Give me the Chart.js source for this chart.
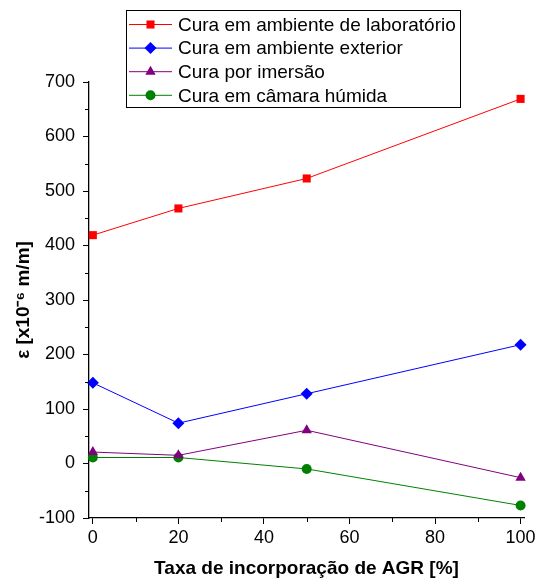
<!DOCTYPE html>
<html>
<head>
<meta charset="utf-8">
<script src="https://cdn.jsdelivr.net/npm/chart.js@4/dist/chart.umd.min.js"></script>
<style>
  html, body { margin: 0; padding: 0; background: #fff; }
  #wrap { width: 541px; height: 581px; }
</style>
</head>
<body>
<div id="wrap"><canvas id="chart" width="541" height="581"></canvas></div>
<script>
// Taxa de incorporação de AGR [%]
const taxas = [0, 20, 50, 100];

// Extensão (x10^-6 m/m) para cada tipo de cura
const curaLaboratorio = [419, 468, 523, 669];
const curaExterior = [148, 74, 128, 218];
const curaImersao = [21, 15, 61, -26];
const curaCamara = [11, 11, -10, -77];

const nomesSeries = [
  'Cura em ambiente de laboratório',
  'Cura em ambiente exterior',
  'Cura por imersão',
  'Cura em câmara húmida'
];
const coresSeries = ['#ff0000', '#0000ff', '#800080', '#008000'];
const marcadores = ['rect', 'rectRot', 'triangle', 'circle'];
const raios = [5.7, 6, 6, 5];

const xTicks = [0, 20, 40, 60, 80, 100];
const xMinor = [10, 30, 50, 70, 90];
const yTicks = [-100, 0, 100, 200, 300, 400, 500, 600, 700];
const yMinor = [-50, 50, 150, 250, 350, 450, 550, 650];

const FONTE = "'Liberation Sans', Arial, sans-serif";

function serie(valores) {
  return taxas.map((t, i) => ({ x: t, y: valores[i] }));
}

const valoresSeries = [curaLaboratorio, curaExterior, curaImersao, curaCamara];

const datasets = valoresSeries.map((v, i) => ({
  label: nomesSeries[i],
  data: serie(v),
  borderColor: coresSeries[i],
  backgroundColor: coresSeries[i],
  borderWidth: 1,
  pointStyle: marcadores[i],
  pointRadius: raios[i],
  pointHoverRadius: raios[i],
  pointBorderWidth: 0,
  tension: 0,
  clip: false
}));

// ticks secundários (sem rótulo), mais curtos que os principais
const minorTicks = {
  id: 'minorTicks',
  afterDraw(chart) {
    const { ctx } = chart;
    const x = chart.scales.x, y = chart.scales.y;
    ctx.save();
    ctx.strokeStyle = '#000';
    ctx.lineWidth = 1;
    ctx.beginPath();
    xMinor.forEach(v => {
      const px = Math.round(x.getPixelForValue(v)) + 0.5;
      ctx.moveTo(px, y.bottom);
      ctx.lineTo(px, y.bottom + 4);
    });
    yMinor.forEach(v => {
      const py = Math.round(y.getPixelForValue(v)) + 0.5;
      ctx.moveTo(x.left, py);
      ctx.lineTo(x.left - 4, py);
    });
    ctx.stroke();
    ctx.restore();
  }
};

// legenda em caixa, sobreposta ao topo do gráfico
const legendaCaixa = {
  id: 'legendaCaixa',
  afterDraw(chart) {
    const { ctx } = chart;
    const bx = 126.5, by = 10.5, bw = 334, bh = 97;
    ctx.save();
    ctx.fillStyle = '#fff';
    ctx.fillRect(bx, by, bw, bh);
    ctx.strokeStyle = '#000';
    ctx.lineWidth = 1;
    ctx.strokeRect(bx, by, bw, bh);
    ctx.font = '19px ' + FONTE;
    ctx.textBaseline = 'middle';
    ctx.textAlign = 'left';
    chart.data.datasets.forEach((ds, i) => {
      const ly = 24.5 + i * 23.6;
      ctx.strokeStyle = ds.borderColor;
      ctx.lineWidth = 1;
      ctx.beginPath();
      ctx.moveTo(129, ly);
      ctx.lineTo(172, ly);
      ctx.stroke();
      ctx.fillStyle = ds.backgroundColor;
      ctx.strokeStyle = ds.borderColor;
      Chart.helpers.drawPoint(ctx, {
        pointStyle: ds.pointStyle,
        radius: ds.pointRadius,
        rotation: 0,
        borderWidth: 0
      }, 150.5, ly);
      ctx.fillStyle = '#000';
      ctx.fillText(ds.label, 178, ly + 1);
    });
    ctx.restore();
  }
};

new Chart(document.getElementById('chart'), {
  type: 'line',
  data: { datasets: datasets },
  options: {
    responsive: false,
    animation: false,
    layout: { padding: { top: 82, right: 17, left: 0, bottom: 0 } },
    plugins: {
      legend: { display: false },
      tooltip: { enabled: false }
    },
    scales: {
      x: {
        type: 'linear',
        min: -0.9,
        max: 100.8,
        afterBuildTicks(scale) {
          scale.ticks = xTicks.map(v => ({ value: v }));
        },
        afterFit(scale) { scale.height = 63; },
        grid: {
          drawOnChartArea: false,
          drawTicks: true,
          tickLength: 6,
          tickColor: '#000',
          tickWidth: 1
        },
        border: { display: true, color: '#000', width: 1.3 },
        ticks: {
          color: '#000',
          padding: 3,
          maxRotation: 0,
          font: { family: FONTE, size: 18 }
        },
        title: {
          display: true,
          text: 'Taxa de incorporação de AGR [%]',
          color: '#000',
          padding: { top: 0, bottom: 0.5 },
          font: { family: FONTE, size: 19, weight: 'bold' }
        }
      },
      y: {
        type: 'linear',
        min: -100,
        max: 700,
        afterBuildTicks(scale) {
          scale.ticks = yTicks.map(v => ({ value: v }));
        },
        afterFit(scale) { scale.width = 89; },
        grid: {
          drawOnChartArea: false,
          drawTicks: true,
          tickLength: 6,
          tickColor: '#000',
          tickWidth: 1
        },
        border: { display: true, color: '#000', width: 1.3 },
        ticks: {
          color: '#000',
          padding: 8,
          font: { family: FONTE, size: 18 }
        },
        title: {
          display: true,
          text: 'ε [x10⁻⁶ m/m]',
          color: '#000',
          padding: { top: 12.5, bottom: 0 },
          font: { family: FONTE, size: 19, weight: 'bold' }
        }
      }
    }
  },
  plugins: [minorTicks, legendaCaixa]
});
</script>
</body>
</html>
